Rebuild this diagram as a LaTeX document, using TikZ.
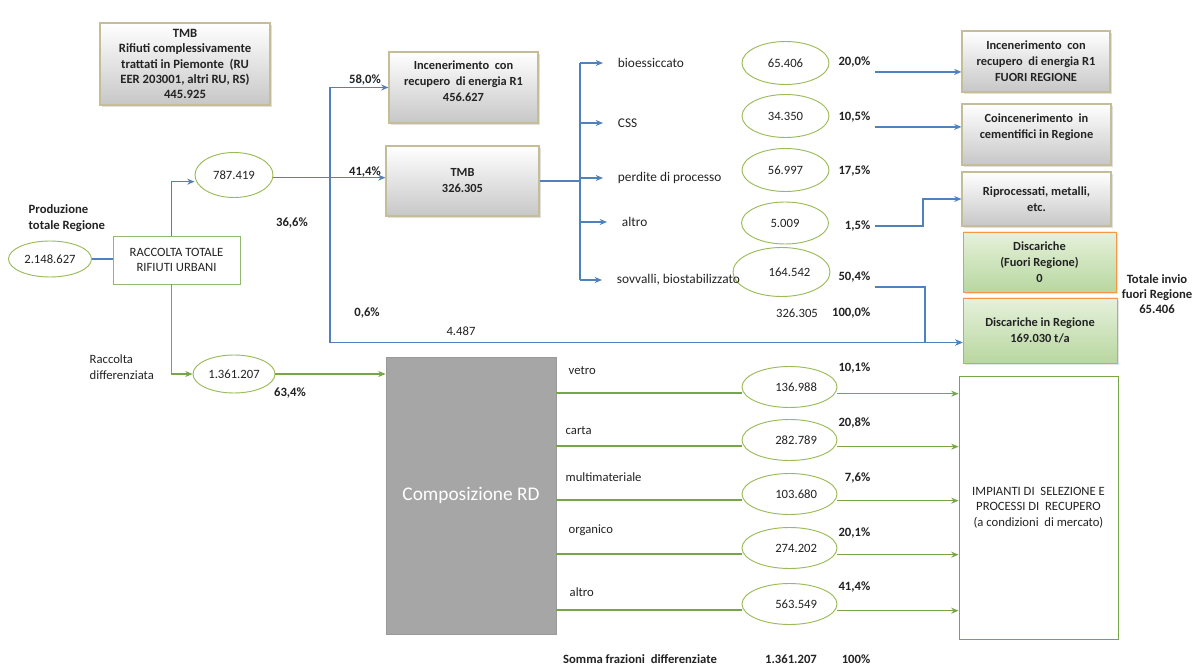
\documentclass[tikz,border=0pt]{standalone}
\usepackage{fontspec}
\setmainfont{Carlito}
\usetikzlibrary{shapes.geometric,arrows.meta,shadows}
\definecolor{lblue}{RGB}{79,129,189}
\definecolor{lgreen}{RGB}{119,166,72}
\definecolor{egreen}{RGB}{155,187,89}
\definecolor{olivebd}{RGB}{196,189,151}
\definecolor{orng}{RGB}{247,150,70}
\definecolor{dgrnA}{RGB}{230,241,219}
\definecolor{dgrnB}{RGB}{184,215,160}
\definecolor{compgray}{RGB}{166,166,166}
\definecolor{txt}{RGB}{35,35,35}
\newcommand{\pxu}{*0.75pt}
\begin{document}
\begin{tikzpicture}[x=0.75pt,y=-0.75pt,
  font=\fontsize{9.5}{11.5}\selectfont, text=txt,
  graybox/.style={draw=olivebd, line width=0.8pt, top color=white, bottom color=black!22,
    drop shadow={opacity=0.25,shadow xshift=1.5pt,shadow yshift=-1.5pt},
    align=center, font=\fontsize{9.3}{12}\selectfont\bfseries, inner sep=2pt},
  greenbox/.style={draw=orng, line width=0.6pt, top color=dgrnA, bottom color=dgrnB,
    drop shadow={opacity=0.2,shadow xshift=1.5pt,shadow yshift=-1.5pt},
    align=center, font=\fontsize{9.3}{12}\selectfont\bfseries, inner sep=2pt},
  val/.style={ellipse, draw=egreen, line width=0.7pt, inner sep=0pt},
  pct/.style={anchor=east, font=\fontsize{9.5}{11}\selectfont\bfseries},
  pb/.style={font=\fontsize{9.5}{11.5}\selectfont\bfseries},
  bl/.style={draw=lblue, line width=0.9pt},
  gr/.style={draw=lgreen, line width=0.9pt},
  arr/.style={-{Stealth[length=5.5pt,width=4.5pt]}},
  brlab/.style={anchor=west, inner xsep=11pt, font=\fontsize{10}{12}\selectfont}
]
\useasboundingbox (0,0) rectangle (1194,666);
\fill[white] (0,0) rectangle (1194,666);

% ---------- boxes ----------
\node[graybox, minimum width=170\pxu, minimum height=82\pxu, font=\fontsize{9.5}{11.3}\selectfont\bfseries] (tmbtot) at (185,64)
  {TMB\\Rifiuti complessivamente\\trattati in Piemonte \ (RU\\EER 203001, altri RU, RS)\\445.925};
\node[graybox, minimum width=149\pxu, minimum height=71\pxu] (incen) at (463.5,87.5)
  {Incenerimento \ con\\recupero \ di energia R1\\456.627\\[-3pt]\mbox{}};
\node[graybox, minimum width=153\pxu, minimum height=70\pxu] (tmb) at (462.5,181)
  {TMB\\326.305};
\node[graybox, minimum width=148\pxu, minimum height=61\pxu] (fuori) at (1036,61.5)
  {Incenerimento \ con\\recupero \ di energia R1\\FUORI REGIONE};
\node[graybox, minimum width=149\pxu, minimum height=61\pxu] (coinc) at (1036.5,134.5)
  {Coincenerimento \ in\\cementifici in Regione\\\mbox{}};
\node[graybox, minimum width=149\pxu, minimum height=54\pxu] (ripro) at (1036.5,199)
  {Riprocessati, metalli,\\etc.};
\node[greenbox, minimum width=153\pxu, minimum height=60\pxu] (discfuori) at (1039.5,262)
  {Discariche\\(Fuori Regione)\\0};
\node[greenbox, minimum width=154\pxu, minimum height=65\pxu] (discreg) at (1040,330.5)
  {Discariche in Regione\\169.030 t/a};
\node[draw=lgreen, line width=0.7pt, fill=white, align=center, minimum width=159\pxu, minimum height=263\pxu] (impianti) at (1038.5,507.5)
  {IMPIANTI DI \ SELEZIONE E\\PROCESSI DI \ RECUPERO\\(a condizioni \ di mercato)};
\node[draw=lgreen!80, line width=0.7pt, align=center, minimum width=127\pxu, minimum height=48\pxu] (raccolta) at (176.5,260)
  {RACCOLTA TOTALE\\RIFIUTI URBANI};
\node[fill=compgray, draw=black!40, line width=0.6pt, text=white, font=\fontsize{14.5}{17}\selectfont, minimum width=170\pxu, minimum height=277\pxu] (comp) at (471,495.5)
  {Composizione RD};

% ---------- ellipses ----------
\node[val, minimum width=83\pxu, minimum height=36\pxu] (e2148) at (50,259) {2.148.627};
\node[val, minimum width=78\pxu, minimum height=45\pxu] (e787) at (234,175) {787.419};
\node[val, minimum width=82\pxu, minimum height=38\pxu] (e1361) at (234,374) {1.361.207};
\node[val, minimum width=87\pxu, minimum height=43\pxu] (v1) at (785.5,63) {65.406};
\node[val, minimum width=87\pxu, minimum height=43\pxu] (v2) at (785.5,116) {34.350};
\node[val, minimum width=87\pxu, minimum height=43\pxu] (v3) at (785.5,170) {56.997};
\node[val, minimum width=87\pxu, minimum height=42\pxu] (v4) at (785,223) {5.009};
\node[val, minimum width=97\pxu, minimum height=49\pxu] (v5) at (781.5,272) {\hspace{12pt}164.542};
\node[val, minimum width=95\pxu, minimum height=41\pxu] (r1) at (789.5,387) {\hspace{10pt}136.988};
\node[val, minimum width=95\pxu, minimum height=41\pxu] (r2) at (789.5,440) {\hspace{10pt}282.789};
\node[val, minimum width=95\pxu, minimum height=41\pxu] (r3) at (789.5,494) {\hspace{10pt}103.680};
\node[val, minimum width=95\pxu, minimum height=41\pxu] (r4) at (789.5,548) {\hspace{10pt}274.202};
\node[val, minimum width=95\pxu, minimum height=41\pxu] (r5) at (789.5,604) {\hspace{10pt}563.549};

% ---------- branch labels ----------
\node[brlab] (b1) at (603,63) {bioessiccato};
\node[brlab] (b2) at (603,123) {CSS};
\node[brlab] (b3) at (603,178) {perdite di processo};
\node[brlab] (b4) at (607,222) {altro};
\node[brlab] (b5) at (602,280) {sovvalli, biostabilizzato};
\node[anchor=west] (g1) at (564,371) {vetro};
\node[anchor=west] (g2) at (561,431) {carta};
\node[anchor=west] (g3) at (561,477) {multimateriale};
\node[anchor=west] (g4) at (564,530) {organico};
\node[anchor=west] (g5) at (565,592) {altro};

% ---------- percentages and other texts ----------
\node[pct] (p200) at (875,62) {20,0\%};
\node[pct] (p105) at (875,117) {10,5\%};
\node[pct] (p175) at (875,171) {17,5\%};
\node[pct] (p15) at (875,226) {1,5\%};
\node[pct] (p504) at (875,277) {50,4\%};
\node[pct] (p1000) at (875,313) {100,0\%};
\node (tot326) at (797,313) {326.305};
\node[pct] (p101) at (875,368) {10,1\%};
\node[pct] (p208) at (875,423) {20,8\%};
\node[pct] (p76) at (875,478) {7,6\%};
\node[pct] (p201) at (875,533) {20,1\%};
\node[pct] (p414b) at (875,587) {41,4\%};
\node[pct] (p100) at (875,659) {100\%};
\node[pb] (somma) at (640,659) {Somma frazioni \ differenziate};
\node[pb] (somv) at (791,659) {1.361.207};
\node[pb] (p580) at (365,80) {58,0\%};
\node[pb] (p414) at (365,172) {41,4\%};
\node[pb] (p366) at (292,223) {36,6\%};
\node[pb] (p06) at (367,313) {0,6\%};
\node[pb] (p634) at (290,393) {63,4\%};
\node (v4487) at (461,331) {4.487};
\node[pb, align=left, anchor=west] (prod) at (24,218) {Produzione\\totale Regione};
\node[align=left, anchor=west] (rdiff) at (85,367) {Raccolta\\differenziata};
\node[pb, align=center] (totinv) at (1157,294) {Totale invio\\fuori Regione\\65.406};

% ---------- helper coordinates ----------
\coordinate (jn) at (330,0);
\coordinate (vx) at (580,0);
\coordinate (drin) at ([yshift=-9pt]discreg.west);
\coordinate (rn) at ([xshift=-4pt]raccolta.north);
\coordinate (rs) at ([xshift=-4pt]raccolta.south);

% ---------- blue connectors ----------
\draw[bl] (e2148.east) -- (e2148.east -| raccolta.west);
\draw[bl,arr] (rn) |- ([yshift=-5pt]e787.west);
\draw[bl,arr] ([yshift=-2pt]e787.east) -- ([yshift=-2pt]e787.east -| tmb.west);
\draw[bl,arr] (jn |- e787.east) |- (incen.west);
\draw[bl,arr] (jn |- e787.east) |- (drin);
\draw[bl,line width=1.4pt] (tmb.east) -- (vx |- tmb.east);
\draw[bl] (vx |- b1.west) -- (vx |- b5.west);
\foreach \b in {b1,b2,b3,b4,b5} \draw[bl,arr] (vx |- \b.west) -- (\b.west);
\draw[bl,arr] (p200.south east) -- (p200.south east -| fuori.west);
\draw[bl,arr] (p105.south east) -- (p105.south east -| coinc.west);
\draw[bl,arr] (p15.east) -- ++(48,0) |- (ripro.west);
\draw[bl,arr] (p504.south east) -- ++(50,0) |- (drin);

% ---------- green connectors ----------
\draw[gr,arr] (rs) |- (e1361.west);
\draw[gr,arr] (e1361.east) -- (e1361.east -| comp.west);
\foreach \i in {1,...,5} {
  \coordinate (ga\i) at ([yshift=-4.5pt]r\i.west);
  \coordinate (gb\i) at ([yshift=-5pt]r\i.east);
  \draw[gr] (comp.east |- ga\i) -- (ga\i);
  \draw[gr,arr] (gb\i) -- (gb\i -| impianti.west);
}
\end{tikzpicture}
\end{document}
